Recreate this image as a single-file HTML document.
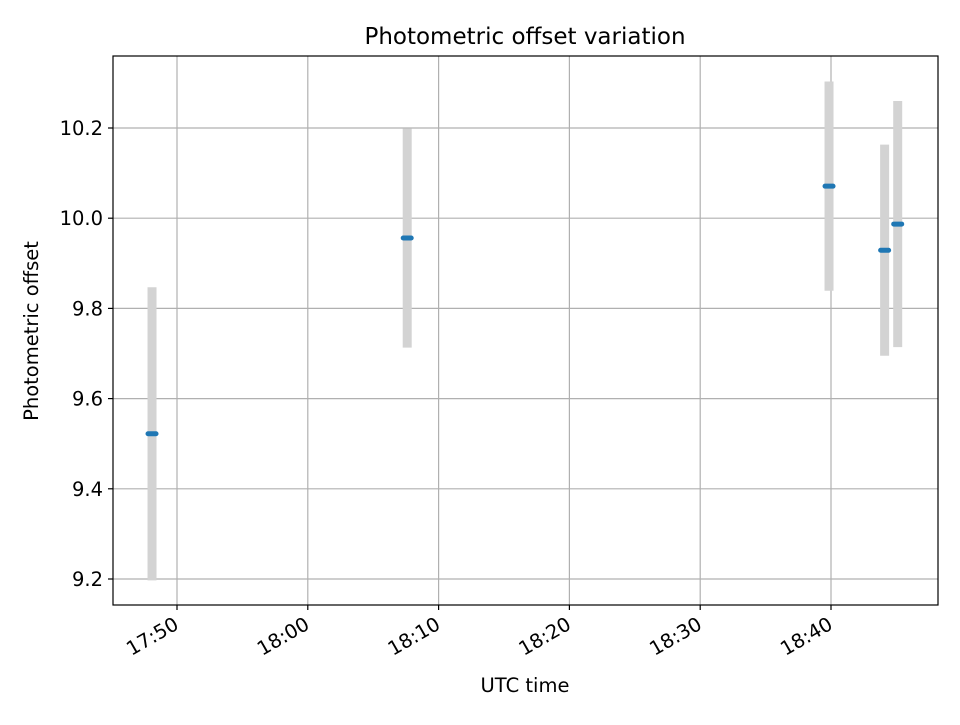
<!DOCTYPE html>
<html><head><meta charset="utf-8"><style>
body{margin:0;background:#fff}
svg text{font-family:"DejaVu Sans","Liberation Sans",sans-serif;fill:#000}
</style></head><body>
<svg id="chart" width="960" height="720" xmlns="http://www.w3.org/2000/svg">
<rect width="960" height="720" fill="#fff"/>
<g id="grid"></g>
<g id="bars"></g>
<g id="pts"></g>
<rect x="113" y="56" width="825" height="549" fill="none" stroke="#000" stroke-width="1.2"/>
<g id="xt"></g>
<g id="yt"></g>
<text x="525" y="44" font-size="23" text-anchor="middle">Photometric offset variation</text>
<text x="525" y="692" font-size="19.5" text-anchor="middle">UTC time</text>
<text transform="translate(38,331) rotate(-90)" font-size="19.5" text-anchor="middle">Photometric offset</text>
</svg>
<script>
// minutes after 17:00
const times=[48.09,67.6,99.85,104.1,105.1];
const values=[9.522,9.956,10.071,9.929,9.987];
const errors=[0.325,0.243,0.232,0.234,0.273];
const xTicks=[50,60,70,80,90,100];
const xTickLabels=["17:50","18:00","18:10","18:20","18:30","18:40"];
const yTicks=[9.2,9.4,9.6,9.8,10.0,10.2];
const yTickLabels=["9.2","9.4","9.6","9.8","10.0","10.2"];
const NS="http://www.w3.org/2000/svg";
const X=m=>177+(m-50)*13.08;
const Y=v=>579-(v-9.2)*451;
function mk(tag,attrs,parent){const e=document.createElementNS(NS,tag);for(const k in attrs)e.setAttribute(k,attrs[k]);parent.appendChild(e);return e;}
const grid=document.getElementById('grid'),xt=document.getElementById('xt'),yt=document.getElementById('yt');
xTicks.forEach((t,i)=>{const x=X(t);
 const g=mk('line',{x1:x,x2:x,y1:56,y2:605,stroke:'#b0b0b0','stroke-width':1.2},grid);
 
 const tk=mk('line',{x1:x,x2:x,y1:605,y2:610,stroke:'#000','stroke-width':1.2},xt);
 
 const tx=mk('text',{transform:`translate(${x+3},${628}) rotate(-30)`,'font-size':19.5,'text-anchor':'end'},xt);
 tx.textContent=xTickLabels[i];
 
});
yTicks.forEach((t,i)=>{const y=Y(t);
 const g=mk('line',{x1:113,x2:938,y1:y,y2:y,stroke:'#b0b0b0','stroke-width':1.2},grid);
 
 const tk=mk('line',{x1:108,x2:113,y1:y,y2:y,stroke:'#000','stroke-width':1.2},yt);
 
 const tx=mk('text',{x:103,y:y+7,'font-size':19.5,'text-anchor':'end'},yt);
 tx.textContent=yTickLabels[i];
 
});
const bars=document.getElementById('bars'),pts=document.getElementById('pts');
times.forEach((t,i)=>{const x=X(t);
 const b=mk('line',{x1:x,x2:x,y1:Y(values[i]+errors[i]),y2:Y(values[i]-errors[i]),stroke:'#d3d3d3','stroke-width':9},bars);
 
 const p=mk('line',{x1:x-4,x2:x+4,y1:Y(values[i]),y2:Y(values[i]),stroke:'#1f77b4','stroke-width':5,'stroke-linecap':'round'},pts);
 
});
</script>
</body></html>
